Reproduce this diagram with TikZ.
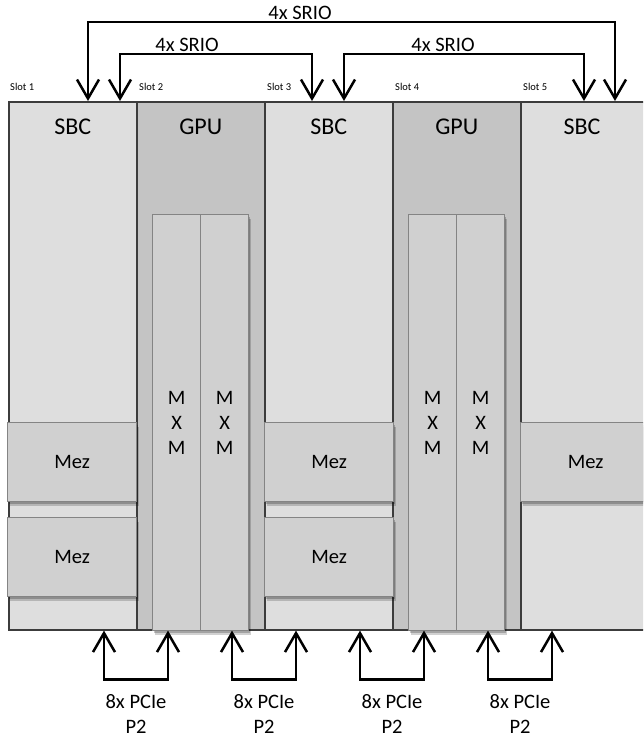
\documentclass[tikz,border=0pt]{standalone}
\usepackage{fontspec}
\setmainfont{Carlito}
\usetikzlibrary{arrows.meta,calc,shadows}
\definecolor{sbcfill}{HTML}{DEDEDE}
\definecolor{gpufill}{HTML}{C4C4C4}
\definecolor{modfill}{HTML}{D0D0D0}
\definecolor{modline}{HTML}{848484}
\definecolor{slotline}{HTML}{3C3C3C}
\begin{document}
\begin{tikzpicture}[x=1pt,y=-1pt,
  slotbox/.style={draw=slotline, line width=1.6pt, inner sep=0pt, anchor=north west,
    minimum width=128pt, minimum height=528pt},
  title/.style={font=\fontsize{24}{28}\selectfont, inner sep=0pt},
  slotlbl/.style={font=\fontsize{10.5}{12}\selectfont, inner sep=0pt, anchor=west},
  lbl/.style={font=\fontsize{20.5}{24.5}\selectfont, inner sep=0pt, align=center},
  softshadow/.style={general shadow={fill=black, opacity=0.18, shadow xshift=2pt, shadow yshift=-4pt},
    general shadow={fill=black, opacity=0.22, shadow xshift=1pt, shadow yshift=-2pt}},
  mxm/.style={draw=modline, line width=1.3pt, fill=modfill, inner sep=0pt, anchor=north west,
    minimum width=48pt, minimum height=416pt, align=center,
    font=\fontsize{20.5}{25}\selectfont, softshadow},
  mez/.style={draw=modline, line width=1.3pt, fill=modfill, inner sep=0pt, anchor=north west,
    minimum width=129pt, minimum height=79pt, font=\fontsize{20.5}{25}\selectfont, softshadow},
  link/.style={line width=2.5pt, {Straight Barb[length=19pt,width=22pt]}-{Straight Barb[length=19pt,width=22pt]}}
]
\useasboundingbox (0,0) rectangle (643,739);
\clip (0,0) rectangle (643,739);
\fill[white] (0,0) rectangle (643,739);

% slots
\node[slotbox, fill=sbcfill] (s1) at (8,101) {};
\node[slotbox, fill=gpufill] (s2) at (136,101) {};
\node[slotbox, fill=sbcfill] (s3) at (264,101) {};
\node[slotbox, fill=gpufill] (s4) at (392,101) {};
\node[slotbox, fill=sbcfill, minimum width=140pt] (s5) at (520,101) {};

% slot titles
\node[title] (t1) at ($(s1.north)+(0,26)$) {SBC};
\node[title] (t2) at ($(s2.north)+(0,26)$) {GPU};
\node[title] (t3) at ($(s3.north)+(0,26)$) {SBC};
\node[title] (t4) at ($(s4.north)+(0,26)$) {GPU};
\node[title] (t5) at (582,127) {SBC};

% slot labels
\node[slotlbl] (l1) at ($(s1.north west)+(2,-14)$) {Slot 1};
\node[slotlbl] (l2) at ($(s2.north west)+(3,-14)$) {Slot 2};
\node[slotlbl] (l3) at ($(s3.north west)+(3,-14)$) {Slot 3};
\node[slotlbl] (l4) at ($(s4.north west)+(3,-14)$) {Slot 4};
\node[slotlbl] (l5) at ($(s5.north west)+(3,-14)$) {Slot 5};

% MXM modules
\node[mxm] (m1) at (152,214) {M\\X\\M};
\node[mxm] (m2) at (200,214) {M\\X\\M};
\node[mxm] (m3) at (408,214) {M\\X\\M};
\node[mxm] (m4) at (456,214) {M\\X\\M};

% Mezzanines
\node[mez] (z1) at (7,422) {Mez};
\node[mez] (z2) at (7,517) {Mez};
\node[mez] (z3) at (264,422) {Mez};
\node[mez] (z4) at (264,517) {Mez};
\node[mez, minimum width=130pt] (z5) at (520,422) {Mez};

% SRIO links
\draw[link] ($(s1.north west)+(80,0)$) -- ++(0,-79) -| ($(s5.north west)+(95,0)$);
\draw[link] ($(s1.north west)+(112,0)$) -- ++(0,-47) -| ($(s3.north west)+(48,0)$);
\draw[link] ($(s3.north west)+(80,0)$) -- ++(0,-47) -| ($(s5.north west)+(64,0)$);
\node[lbl] (r1) at (300,13) {4x SRIO};
\node[lbl] (r2) at (187,45) {4x SRIO};
\node[lbl] (r3) at (443,45) {4x SRIO};

% PCIe links
\draw[link] ($(s1.south west)+(96,0)$) -- ++(0,49) -| ($(s2.south west)+(32,0)$);
\draw[link] ($(s2.south west)+(96,0)$) -- ++(0,49) -| ($(s3.south west)+(32,0)$);
\draw[link] ($(s3.south west)+(96,0)$) -- ++(0,49) -| ($(s4.south west)+(32,0)$);
\draw[link] ($(s4.south west)+(96,0)$) -- ++(0,49) -| ($(s5.south west)+(32,0)$);
\node[lbl] (p1) at (136,714) {8x PCIe\\P2};
\node[lbl] (p2) at (264,714) {8x PCIe\\P2};
\node[lbl] (p3) at (392,714) {8x PCIe\\P2};
\node[lbl] (p4) at (520,714) {8x PCIe\\P2};
\end{tikzpicture}
\end{document}
